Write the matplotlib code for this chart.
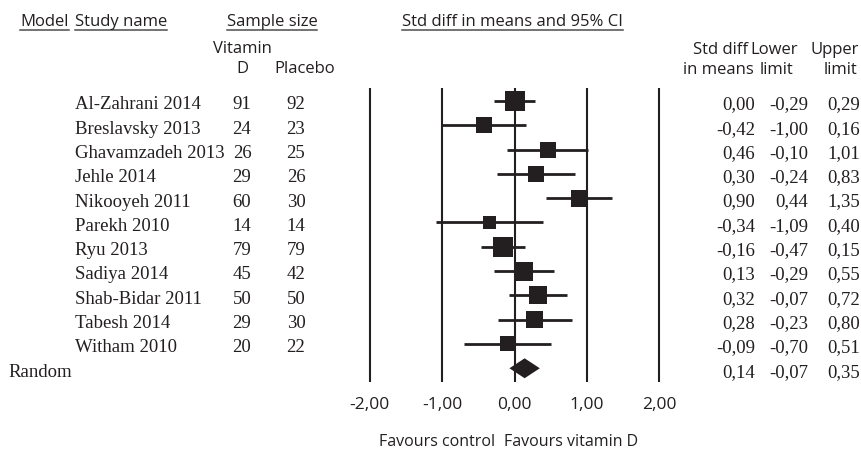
import numpy as np
import matplotlib.pyplot as plt
from matplotlib import transforms
from matplotlib.lines import Line2D

studies = ['Al-Zahrani 2014', 'Breslavsky 2013', 'Ghavamzadeh 2013', 'Jehle 2014',
           'Nikooyeh 2011', 'Parekh 2010', 'Ryu 2013', 'Sadiya 2014',
           'Shab-Bidar 2011', 'Tabesh 2014', 'Witham 2010']
n_vitd = [91, 24, 26, 29, 60, 14, 79, 45, 50, 29, 20]
n_placebo = [92, 23, 25, 26, 30, 14, 79, 42, 50, 30, 22]
smd = [0.00, -0.42, 0.46, 0.30, 0.90, -0.34, -0.16, 0.13, 0.32, 0.28, -0.09]
lower = [-0.29, -1.00, -0.10, -0.24, 0.44, -1.09, -0.47, -0.29, -0.07, -0.23, -0.70]
upper = [0.29, 0.16, 1.01, 0.83, 1.35, 0.40, 0.15, 0.55, 0.72, 0.80, 0.51]
# relative weights (%)
weights = [12.4, 7.9, 7.9, 7.9, 9.0, 5.2, 12.4, 11.2, 10.0, 9.0, 7.0]
pooled_name = 'Random'
pooled = [0.14, -0.07, 0.35]
ticks = [-2, -1, 0, 1, 2]

INK = '#231f20'
SANS = ['Open Sans', 'DejaVu Sans']
SERIF = 'Liberation Serif'

W, H = 862, 453
fig = plt.figure(figsize=(W / 100, H / 100), dpi=100)


def fx(px):
    return px / W


def fy(py):
    return 1 - py / H


def comma(v):
    return f'{v:.2f}'.replace('.', ',')


# forest panel
ax = fig.add_axes([fx(339.5), fy(382), 350 / W, 294 / H])
ax.set_xlim(-2.42, 2.42)
ax.set_ylim(11.565, -0.535)
rows = np.arange(len(studies))

for t in ticks:
    ax.axvline(t, color=INK, lw=1.5, zorder=1)
ax.hlines(rows, lower, upper, color=INK, lw=2, zorder=2)
sq = 20 * np.sqrt(np.array(weights) / 12.4) * 0.72
ax.scatter(smd, rows, marker='s', s=sq ** 2, color=INK, linewidths=0, zorder=3)

r = len(studies)
est, lo, hi = pooled
ax.fill([lo, est, hi, est], [r, r - 0.41, r, r + 0.41], color=INK, lw=0, zorder=3)

ax.set_xticks(ticks)
ax.set_xticklabels([comma(t) for t in ticks], family=SANS, fontsize=12.5, color=INK)
ax.set_yticks([])
ax.tick_params(axis='x', length=0, pad=11)
for s in ax.spines.values():
    s.set_visible(False)
ax.patch.set_alpha(0)

# row text
trans = transforms.blended_transform_factory(fig.transFigure, ax.transData)
kw = dict(transform=trans, va='center', family=SERIF, fontsize=13.5, color=INK)
for i, name in enumerate(studies):
    y = i + 0.16
    ax.text(fx(75), y, name, ha='left', **kw)
    ax.text(fx(242), y, str(n_vitd[i]), ha='center', **kw)
    ax.text(fx(296), y, str(n_placebo[i]), ha='center', **kw)
    ax.text(fx(755), y, comma(smd[i]), ha='right', **kw)
    ax.text(fx(808), y, comma(lower[i]), ha='right', **kw)
    ax.text(fx(860), y, comma(upper[i]), ha='right', **kw)
y = r + 0.16
ax.text(fx(8), y, pooled_name, ha='left', **kw)
ax.text(fx(755), y, comma(est), ha='right', **kw)
ax.text(fx(808), y, comma(lo), ha='right', **kw)
ax.text(fx(860), y, comma(hi), ha='right', **kw)

# headers
hk = dict(family=SANS, fontsize=12, color=INK, va='center')
underlined = [
    fig.text(fx(20), fy(22), 'Model', ha='left', **hk),
    fig.text(fx(75), fy(22), 'Study name', ha='left', **hk),
    fig.text(fx(272), fy(22), 'Sample size', ha='center', **hk),
    fig.text(fx(402), fy(22), 'Std diff in means and 95% CI', ha='left', **hk),
]
fig.text(fx(242), fy(49), 'Vitamin', ha='center', **hk)
fig.text(fx(242), fy(69), 'D', ha='center', **hk)
fig.text(fx(305), fy(69), 'Placebo', ha='center', **hk)
fig.text(fx(748), fy(50), 'Std diff', ha='right', **hk)
fig.text(fx(754), fy(70), 'in means', ha='right', **hk)
fig.text(fx(798), fy(50), 'Lower', ha='right', **hk)
fig.text(fx(793), fy(70), 'limit', ha='right', **hk)
fig.text(fx(859), fy(50), 'Upper', ha='right', **hk)
fig.text(fx(857), fy(70), 'limit', ha='right', **hk)

fk = dict(hk, fontsize=11.5)
fig.text(fx(437), fy(442), 'Favours control', ha='center', **fk)
fig.text(fx(571), fy(442), 'Favours vitamin D', ha='center', **fk)

fig.canvas.draw()
rend = fig.canvas.get_renderer()
for t in underlined:
    bb = t.get_window_extent(rend).transformed(fig.transFigure.inverted())
    fig.add_artist(Line2D([bb.x0, bb.x1], [fy(29.5), fy(29.5)], color='#4d4d4d',
                          lw=1.1, transform=fig.transFigure))

fig.savefig('out.png', dpi=100)
